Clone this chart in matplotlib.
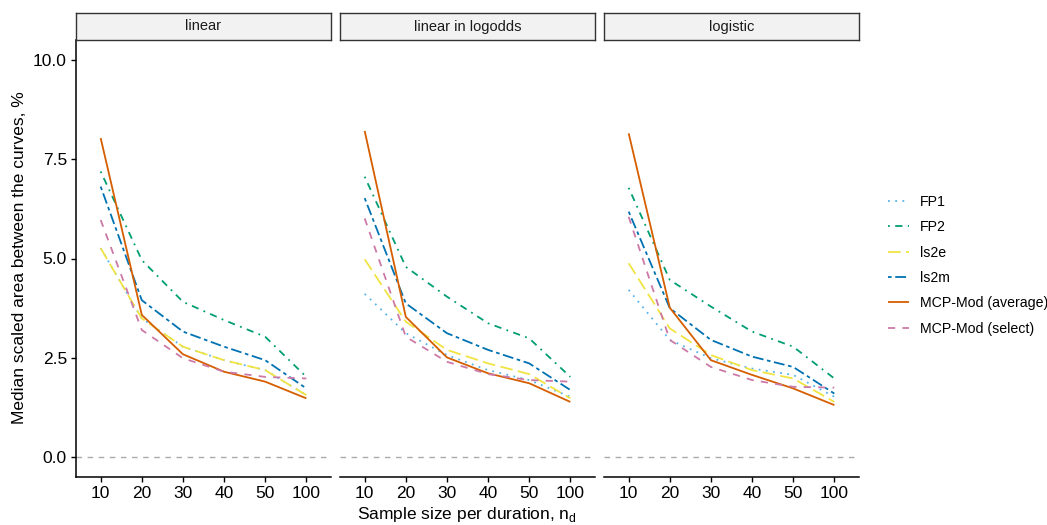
import matplotlib
matplotlib.use('Agg')
import matplotlib.pyplot as plt
import numpy as np

plt.rcParams['font.family'] = ['Liberation Sans', 'DejaVu Sans']

sample_sizes = ['10', '20', '30', '40', '50', '100']
panels = ['linear', 'linear in logodds', 'logistic']
methods = ['FP1', 'FP2', 'ls2e', 'ls2m', 'MCP-Mod (average)', 'MCP-Mod (select)']

# median scaled area, % (per panel, per method, per sample size)
fp1_linear = [5.26, 3.49, 2.78, 2.44, 2.19, 1.56]
fp2_linear = [7.19, 4.96, 3.91, 3.45, 3.03, 2.02]
ls2e_linear = [5.26, 3.49, 2.78, 2.44, 2.19, 1.56]
ls2m_linear = [6.81, 3.95, 3.16, 2.78, 2.44, 1.73]
avg_linear = [8.03, 3.58, 2.59, 2.15, 1.90, 1.48]
sel_linear = [5.97, 3.20, 2.49, 2.15, 2.02, 1.98]

fp1_logodds = [4.11, 3.12, 2.57, 2.19, 1.94, 1.52]
fp2_logodds = [7.06, 4.79, 4.04, 3.37, 2.99, 2.02]
ls2e_logodds = [4.98, 3.41, 2.70, 2.36, 2.09, 1.48]
ls2m_logodds = [6.52, 3.87, 3.12, 2.70, 2.36, 1.69]
avg_logodds = [8.21, 3.53, 2.51, 2.11, 1.86, 1.39]
sel_logodds = [6.01, 3.03, 2.40, 2.09, 1.94, 1.90]

fp1_logistic = [4.21, 2.95, 2.49, 2.23, 2.07, 1.52]
fp2_logistic = [6.78, 4.46, 3.79, 3.16, 2.78, 1.98]
ls2e_logistic = [4.88, 3.24, 2.57, 2.19, 1.98, 1.39]
ls2m_logistic = [6.18, 3.75, 2.95, 2.53, 2.27, 1.60]
avg_logistic = [8.15, 3.76, 2.44, 2.07, 1.73, 1.31]
sel_logistic = [6.05, 2.95, 2.27, 1.94, 1.77, 1.75]

data = {
    'linear': [fp1_linear, fp2_linear, ls2e_linear, ls2m_linear, avg_linear, sel_linear],
    'linear in logodds': [fp1_logodds, fp2_logodds, ls2e_logodds, ls2m_logodds, avg_logodds, sel_logodds],
    'logistic': [fp1_logistic, fp2_logistic, ls2e_logistic, ls2m_logistic, avg_logistic, sel_logistic],
}

colors = ['#56B4E9', '#009E73', '#F0E442', '#0072B2', '#D55E00', '#CC79A7']
dashes = [(1, 3), (1, 3, 4, 3), (7, 3), (2, 2, 6, 2), None, (4, 4)]

W, H = 1047, 525
fig = plt.figure(figsize=(W / 100, H / 100), dpi=100)

lefts = [76, 340, 604]
pw = 255
top, bottom = 40, 477
x = np.arange(1, len(sample_sizes) + 1)

handles = []
for p, (name, left) in enumerate(zip(panels, lefts)):
    ax = fig.add_axes([left / W, 1 - bottom / H, pw / W, (bottom - top) / H])
    ax.axhline(0, color='#AAAAAA', lw=1.0, dashes=(4, 4), zorder=1)
    for i, vals in enumerate(data[name]):
        kw = dict(color=colors[i], lw=1.3, solid_capstyle='butt', dash_capstyle='butt')
        ln, = ax.plot(x, vals, **kw, zorder=2 + i)
        if dashes[i] is not None:
            ln.set_dashes(dashes[i])
        if p == 0:
            handles.append(ln)
    ax.set_xlim(0.4, 6.6)
    ax.set_ylim(-0.5, 10.5)
    ax.set_xticks(x)
    ax.set_xticklabels(sample_sizes)
    ax.set_yticks([0, 2.5, 5, 7.5, 10])
    ax.set_yticklabels(['0.0', '2.5', '5.0', '7.5', '10.0'])
    for s in ['top', 'right']:
        ax.spines[s].set_visible(False)
    ax.spines['bottom'].set_linewidth(1.1)
    ax.spines['left'].set_linewidth(1.1)
    ax.tick_params(labelsize=12.5, length=3.5, width=1, colors='black', pad=3)
    if p > 0:
        ax.spines['left'].set_visible(False)
        ax.tick_params(axis='y', left=False, labelleft=False)

    sax = fig.add_axes([left / W, 1 - 40 / H, pw / W, 27 / H])
    sax.set_xticks([])
    sax.set_yticks([])
    sax.set_facecolor('#F2F2F2')
    for s in sax.spines.values():
        s.set_linewidth(1.0)
        s.set_color('#333333')
    sax.text(0.5, 0.5, name, ha='center', va='center', fontsize=10.5,
             color='#1A1A1A', transform=sax.transAxes)

fig.text(20 / W, 1 - 258 / H, 'Median scaled area between the curves, %',
         rotation=90, ha='center', va='center', fontsize=12.5)
fig.text(467 / W, 1 - 514 / H, 'Sample size per duration, n$_\\mathregular{d}$',
         ha='center', va='center', fontsize=12.5)

fig.legend(handles, methods, loc='upper left', bbox_to_anchor=(888 / W, 1 - 195 / H),
           frameon=False, fontsize=10.2, handlelength=1.45, handletextpad=0.8,
           labelspacing=0.8, borderpad=0, borderaxespad=0)

fig.savefig('out.png', dpi=100)
